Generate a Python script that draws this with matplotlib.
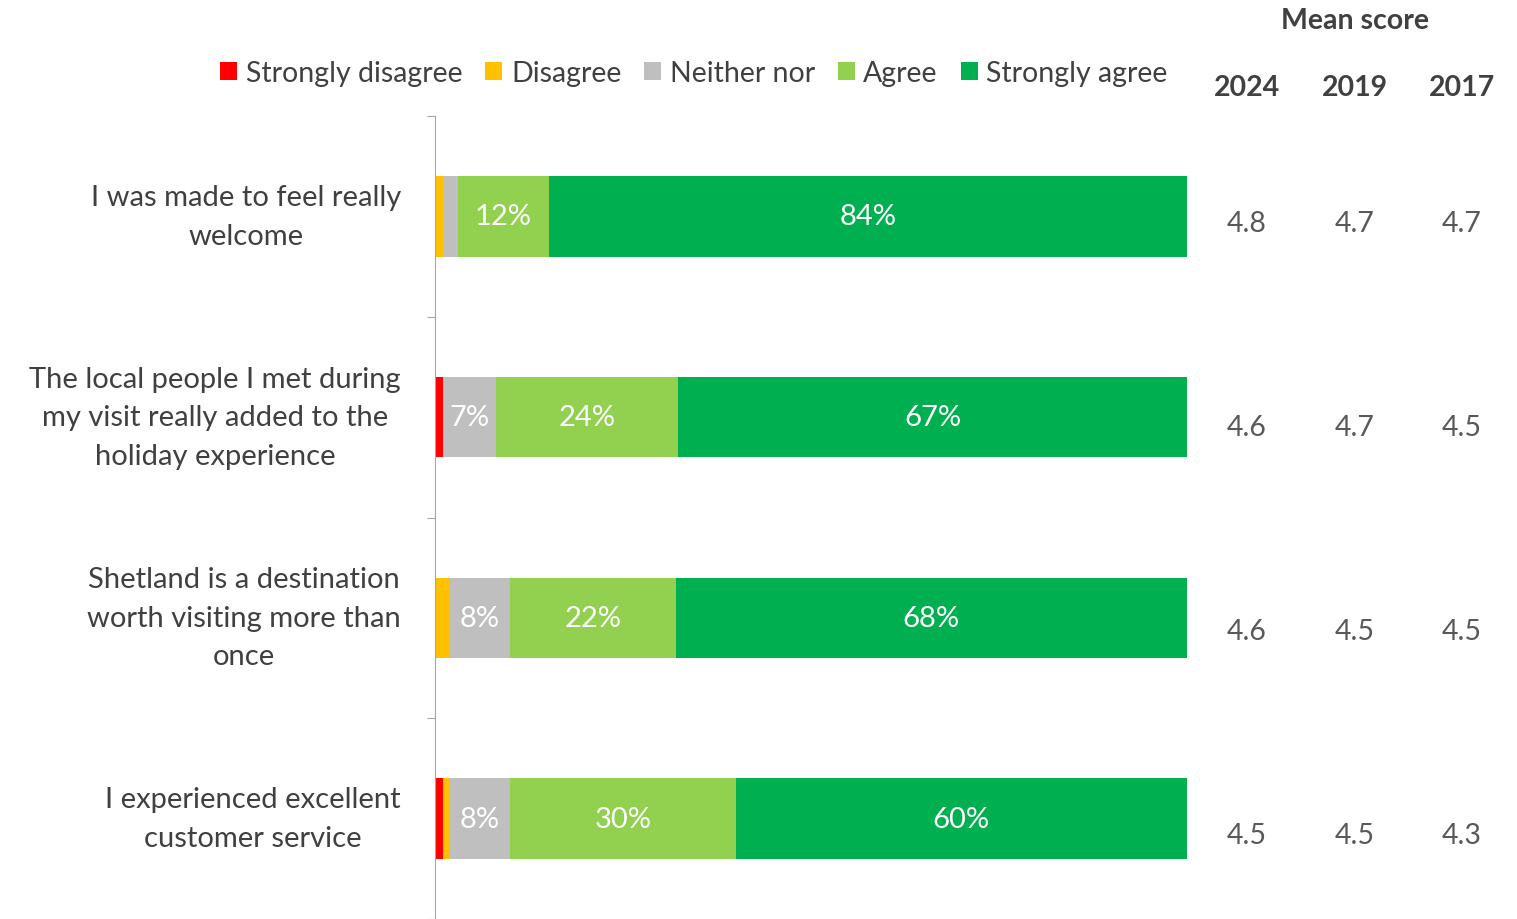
import matplotlib.pyplot as plt
import matplotlib.transforms as mtransforms
from matplotlib.patches import Patch
import numpy as np

plt.rcParams['font.family'] = ['Lato', 'DejaVu Sans']

# Data
statements = [
    "I was made to feel really\nwelcome",
    "The local people I met during\nmy visit really added to the\nholiday experience",
    "Shetland is a destination\nworth visiting more than\nonce",
    "I experienced excellent\ncustomer service",
]
categories = ["Strongly disagree", "Disagree", "Neither nor", "Agree", "Strongly agree"]
strongly_disagree = [0, 1, 0, 1]
disagree = [1, 0, 2, 1]
neither = [2, 7, 8, 8]
agree = [12, 24, 22, 30]
strongly_agree = [84, 67, 68, 60]
colors = ["#FF0000", "#FFC000", "#BFBFBF", "#92D050", "#00B050"]

years = ["2024", "2019", "2017"]
mean_2024 = [4.8, 4.6, 4.6, 4.5]
mean_2019 = [4.7, 4.7, 4.5, 4.5]
mean_2017 = [4.7, 4.5, 4.5, 4.3]

text_col = "#404040"

values = np.array([strongly_disagree, disagree, neither, agree, strongly_agree], dtype=float)
shares = values / values.sum(axis=0) * 100  # 100% stacked

fig = plt.figure(figsize=(15.17, 9.2), dpi=100, facecolor="white")
ax = fig.add_axes([435 / 1517, 0.0, 752 / 1517, 1 - 117 / 920])

y = np.arange(len(statements))
left = np.zeros(len(statements))
for k in range(len(categories)):
    ax.barh(y, shares[k], left=left, height=0.4, color=colors[k], label=categories[k])
    for i in range(len(statements)):
        if values[k, i] >= 5:
            ax.text(left[i] + shares[k, i] / 2, y[i], f"{int(values[k, i])}%",
                    ha="center", va="center", color="white", fontsize=21)
    left += shares[k]

ax.set_xlim(0, 100)
ax.set_ylim(3.5, -0.5)
ax.set_xticks([])
ax.set_yticks(np.arange(-0.5, 4.0, 1.0))
ax.set_yticklabels([])
ax.tick_params(axis="y", direction="out", length=6, color="#A6A6A6")
for s in ["top", "right", "bottom"]:
    ax.spines[s].set_visible(False)
ax.spines["left"].set_color("#A6A6A6")

# Statement labels (right-aligned block, centred lines)
lab_tr = mtransforms.blended_transform_factory(fig.transFigure, ax.transData)
for i, s in enumerate(statements):
    ax.text(401 / 1517, y[i], s, transform=lab_tr, ha="right", va="center",
            multialignment="center", fontsize=21, color=text_col, linespacing=1.6)

# Mean score table
col_x = [1247 / 1517, 1355 / 1517, 1462 / 1517]
fig.text(1355 / 1517, 1 - 21 / 920, "Mean score", ha="center", va="center",
         fontsize=20.5, fontweight="bold", color=text_col)
for cx, yr, means in zip(col_x, years, [mean_2024, mean_2019, mean_2017]):
    fig.text(cx, 1 - 88 / 920, yr, ha="center", va="center",
             fontsize=20.5, fontweight="bold", color=text_col)
    for i, m in enumerate(means):
        ax.text(cx, y[i] + 0.035 + 0.015 * i, f"{m:.1f}", transform=lab_tr,
                ha="center", va="center", fontsize=20.5, color="#595959")

handles = [Patch(facecolor=c, edgecolor="none") for c in colors]
fig.legend(handles, categories, loc="center", bbox_to_anchor=(694 / 1517, 1 - 74 / 920),
           ncol=5, frameon=False, fontsize=20.5, handlelength=0.6, handleheight=0.6,
           handletextpad=0.3, columnspacing=0.8, labelcolor=text_col)

fig.savefig("out.png", dpi=100, facecolor="white")
